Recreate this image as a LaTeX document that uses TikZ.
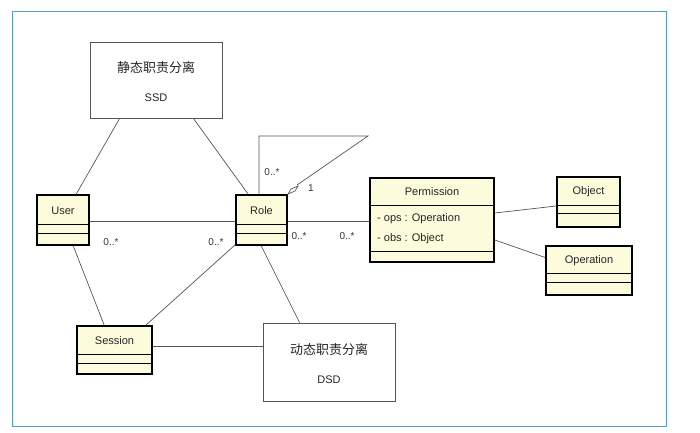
\documentclass[tikz,border=0pt]{standalone}
\usepackage{fontspec}
\setmainfont{Liberation Sans}
\newfontfamily\cjk{Noto Sans CJK SC}
\usetikzlibrary{calc}
\definecolor{frameblue}{HTML}{4FA3C8}
\definecolor{umlfill}{HTML}{FCFBDC}
\definecolor{linegray}{HTML}{555555}
\tikzset{
  cls/.style={draw=black,line width=1.6pt,fill=umlfill,rectangle,inner sep=0pt},
  note/.style={draw=linegray,line width=0.8pt,fill=white,rectangle,inner sep=0pt,align=center},
  conn/.style={draw=linegray,line width=0.7pt},
  mult/.style={font=\fontsize{10}{11}\selectfont,text=black!80,inner sep=0pt},
  ttl/.style={font=\fontsize{11}{12}\selectfont,text=black!85,inner sep=0pt},
  cjkt/.style={font=\cjk\fontsize{13}{14}\selectfont,text=black!85,inner sep=0pt},
  div/.style={draw=black,line width=0.7pt}
}
\begin{document}
\begin{tikzpicture}[x=1pt,y=-1pt]
\useasboundingbox (0,0) rectangle (700,432);
\draw[frameblue,line width=1pt] (12,11) rectangle (666,426);
% notes
\node[note,minimum width=132pt,minimum height=76pt] (ssd) at (156,80) {};
\node[cjkt] (ssdt1) at (156,68) {静态职责分离};
\node[ttl] (ssdt2) at (156,98) {SSD};
\node[note,minimum width=132pt,minimum height=78pt] (dsd) at (329,362) {};
\node[cjkt] (dsdt1) at (329,350) {动态职责分离};
\node[ttl] (dsdt2) at (329,380) {DSD};
% classes
\node[cls,minimum width=52pt,minimum height=50pt] (user) at (63,220) {};
\node[ttl] (usert) at (63,211) {User};
\draw[div] (37,224) -- (89,224) (37,233) -- (89,233);
\node[cls,minimum width=51pt,minimum height=50pt] (role) at (261.5,220) {};
\node[ttl] (rolet) at (261.5,211) {Role};
\draw[div] (236,224) -- (287,224) (236,233) -- (287,233);
\node[cls,minimum width=75pt,minimum height=48pt] (session) at (114.5,350) {};
\node[ttl] (sessiont) at (114.5,341) {Session};
\draw[div] (77,354) -- (152,354) (77,363) -- (152,363);
\node[cls,minimum width=124pt,minimum height=84pt] (perm) at (432,220) {};
\node[ttl] (permt) at (432,192) {Permission};
\draw[div] (370,205) -- (494,205) (370,251) -- (494,251);
\node[ttl,anchor=west] (ops) at (377,219) {- ops : Operation};
\node[ttl,anchor=west] (obs) at (377,239) {- obs : Object};
\node[cls,minimum width=63pt,minimum height=50pt] (object) at (588.5,202) {};
\node[ttl] (objectt) at (588.5,192) {Object};
\draw[div] (557,205) -- (620,205) (557,213) -- (620,213);
\node[cls,minimum width=86pt,minimum height=49pt] (operation) at (589,270.5) {};
\node[ttl] (operationt) at (589,261) {Operation};
\draw[div] (546,273) -- (632,273) (546,282) -- (632,282);
% connectors
\draw[conn] ($(ssd.south west)+(30,0)$) -- ($(user.north west)+(40,0)$);
\draw[conn] ($(ssd.south east)+(-29,0)$) -- ($(role.north west)+(13,0)$);
\draw[conn] (user.east |- 0,221) -- (role.west |- 0,221);
\draw[conn] ($(user.south west)+(37,0)$) -- ($(session.north west)+(28,0)$);
\draw[conn] ($(role.south west)+(0,-1)$) -- ($(session.north east)+(-7,0)$);
\draw[conn] ($(role.south west)+(26,0)$) -- ($(dsd.north west)+(37,0)$);
\draw[conn] (session.east |- 0,346) -- (dsd.west |- 0,346);
\draw[conn] (role.east |- 0,221) -- (perm.west |- 0,221);
\draw[conn] ($(perm.east)+(0,-7)$) -- ($(object.west)+(0,4)$);
\draw[conn] ($(perm.east)+(0,20)$) -- ($(operation.west)+(0,-13)$);
% self association with aggregation diamond
\coordinate (lp1) at (259,136);
\coordinate (lp2) at (368,136);
\draw[conn] (role.north -| 259,0) -- (lp1) -- (lp2) -- (297,185);
\draw[conn,fill=white] (288,194) -- (291,189) -- (298,186) -- (295,191) -- cycle;
% multiplicities
\node[mult] (m1) at (111,242) {0..*};
\node[mult] (m2) at (216,242) {0..*};
\node[mult] (m3) at (299,236) {0..*};
\node[mult] (m4) at (347,236) {0..*};
\node[mult] (m5) at (272,172) {0..*};
\node[mult] (m6) at (311,188) {1};
\end{tikzpicture}
\end{document}
